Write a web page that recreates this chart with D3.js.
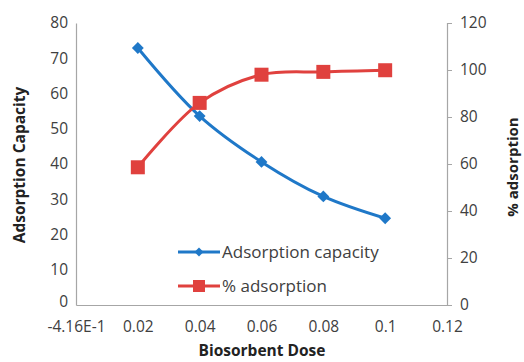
<!DOCTYPE html>
<html><head><meta charset="utf-8">
<script src="https://cdn.jsdelivr.net/npm/d3@7"></script>
<style>body{margin:0;background:#fff}svg{display:block}text{font-family:"Open Sans","Liberation Sans",sans-serif}</style>
</head><body><svg id="c" width="524" height="362"></svg>
<script>
const doses = [0.02, 0.04, 0.06, 0.08, 0.1];
const capacity = [72.9, 53.6, 40.6, 30.8, 24.6];
const percentAds = [58.6, 86, 98, 99.2, 99.9];
const xTicks = [0, 0.02, 0.04, 0.06, 0.08, 0.1, 0.12];
const xTickLabels = ["-4.16E-1", "0.02", "0.04", "0.06", "0.08", "0.1", "0.12"];
const leftTicks = [0, 10, 20, 30, 40, 50, 60, 70, 80];
const rightTicks = [0, 20, 40, 60, 80, 100, 120];
const seriesNames = ["Adsorption capacity", "% adsorption"];

const svg = d3.select("#c");
const L = 76, R = 447, T = 23, B = 305;
const x = d3.scaleLinear().domain([0, 0.12]).range([L, R]);
const yL = d3.scaleLinear().domain([0, 80]).range([B, T]);
const yR = d3.scaleLinear().domain([0, 120]).range([B, T]);
const axisColor = "#a6a6a6", textColor = "#404040";

// axes
const gx = svg.append("g").attr("transform", `translate(0,${B})`)
  .call(d3.axisBottom(x).tickValues(xTicks).tickSize(0).tickPadding(16)
    .tickFormat((d, i) => xTickLabels[i]));
const gl = svg.append("g").attr("transform", `translate(${L},0)`)
  .call(d3.axisLeft(yL).tickValues(leftTicks).tickSize(0).tickPadding(8));
const gr = svg.append("g").attr("transform", `translate(${R},0)`)
  .call(d3.axisRight(yR).tickValues(rightTicks).tickSize(5).tickPadding(8));
[gx, gl, gr].forEach(g => {
  g.select(".domain").attr("stroke", axisColor).attr("stroke-width", 1.2);
  g.selectAll(".tick line").attr("stroke", axisColor);
  g.selectAll(".tick text").attr("fill", textColor).style("font-size", "15.5px");
});
gl.selectAll(".tick text").filter(d => d === 0).attr("dy", "0.1em");

// titles
svg.append("text").attr("transform", "translate(25,165) rotate(-90)")
  .attr("text-anchor", "middle").attr("font-weight", "bold").attr("font-size", 15.5)
  .attr("fill", "#222").text("Adsorption Capacity");
svg.append("text").attr("transform", "translate(518,167) rotate(-90)")
  .attr("text-anchor", "middle").attr("font-weight", "bold").attr("font-size", 15)
  .attr("fill", "#222").text("% adsorption");
svg.append("text").attr("x", 262).attr("y", 356)
  .attr("text-anchor", "middle").attr("font-weight", "bold").attr("font-size", 15.5)
  .attr("fill", "#222").text("Biosorbent Dose");

const blue = "#1f78c8", red = "#e0413e";
const curve = d3.curveCatmullRom.alpha(0.5);
const lineL = d3.line().x((d, i) => x(doses[i])).y(d => yL(d)).curve(curve);
const lineR = d3.line().x((d, i) => x(doses[i])).y(d => yR(d)).curve(curve);

svg.append("path").attr("d", lineL(capacity)).attr("fill", "none")
  .attr("stroke", blue).attr("stroke-width", 3);
svg.append("path").attr("d", lineR(percentAds)).attr("fill", "none")
  .attr("stroke", red).attr("stroke-width", 3);

const diamond = d3.symbol().type(d3.symbolSquare).size(70);
svg.selectAll(".dm").data(capacity).join("path")
  .attr("d", diamond())
  .attr("transform", (d, i) => `translate(${x(doses[i])},${yL(d)}) rotate(45)`)
  .attr("fill", blue);
svg.selectAll(".sq").data(percentAds).join("rect")
  .attr("x", (d, i) => x(doses[i]) - 7).attr("y", d => yR(d) - 7)
  .attr("width", 14).attr("height", 14).attr("fill", red);

// legend
const leg = [{ y: 252, c: blue, t: "d" }, { y: 286, c: red, t: "s" }];
leg.forEach((l, i) => {
  svg.append("line").attr("x1", 178).attr("x2", 220).attr("y1", l.y).attr("y2", l.y)
    .attr("stroke", l.c).attr("stroke-width", 3);
  if (l.t === "d") {
    svg.append("path").attr("d", d3.symbol().type(d3.symbolSquare).size(40)())
      .attr("transform", `translate(199,${l.y}) rotate(45)`).attr("fill", l.c);
  } else {
    svg.append("rect").attr("x", 193).attr("y", l.y - 6).attr("width", 12).attr("height", 12).attr("fill", l.c);
  }
  svg.append("text").attr("x", 222).attr("y", l.y + 6).attr("font-size", 17)
    .attr("fill", textColor).text(seriesNames[i]);
});
</script></body></html>
